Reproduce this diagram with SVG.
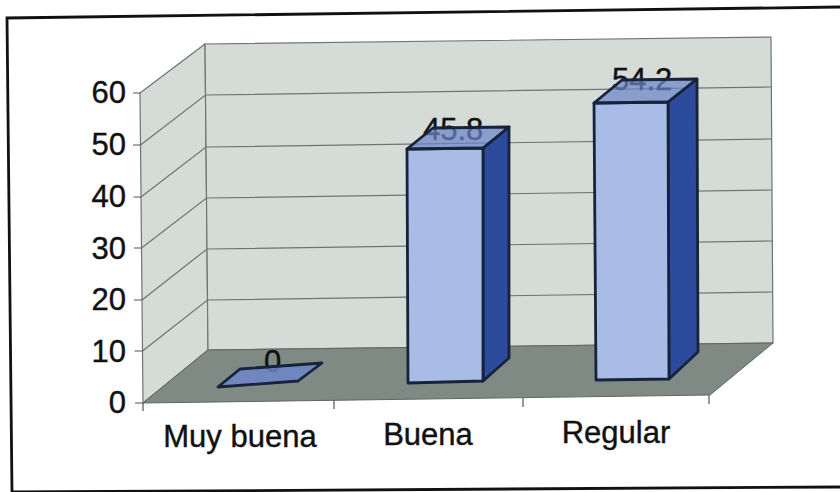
<svg xmlns="http://www.w3.org/2000/svg" width="840" height="492" viewBox="0 0 840 492">
<style>
.wall{fill:#d5dcd8;stroke:#6e7470;stroke-width:1.2}
.floor{fill:#7f8a85;stroke:#5f6763;stroke-width:1}
.grid{stroke:#6e7470;stroke-width:1.2;fill:none}
.tick{stroke:#555;stroke-width:1.2}
.front{fill:#a9bce6;stroke:#16233a;stroke-width:2.8;stroke-linejoin:round}
.side{fill:#2d4b9c;stroke:#16233a;stroke-width:2.8;stroke-linejoin:round}
.top{fill:#6c86c8;fill-opacity:0.72;stroke:#16233a;stroke-width:2.8;stroke-linejoin:round}
.lbl{font-family:"Liberation Sans",Arial,sans-serif;font-size:31px;fill:#111;stroke:#111;stroke-width:0.4}
.frame{stroke:#111;stroke-width:2.8;fill:none}
</style>
<rect width="840" height="492" fill="#ffffff"/>
<path class="frame" d="M12 492 L7 18 L840 7"/>
<path class="frame" d="M12 492 L840 487"/>
<g id="walls">
<polygon class="wall" points="140,93 205,44 208,350 143,403"/>
<polygon class="wall" points="205,44 771,37 773,343 208,350"/>
<polygon class="floor" points="143,403 208,350 773,343 710,395"/>
</g>
<g id="gridlines">
<path class="grid" d="M140.5 145 L205.5 95 L771.5 87 M141 197 L206 147 L772 139 M141.5 248 L206.5 198 L772 190 M142 300 L207 249 L772.5 241 M142.5 351 L207.5 300 L773 292"/>
</g>
<g id="axis">
<path class="tick" d="M133 93 H140 M133 145 H140.5 M133.5 197 H141 M134 248 H141.5 M134 300 H142 M134.5 351 H142.5 M135 403 H143"/>
<path class="tick" d="M143 403 V411 M334 400 V409 M523 398 V407 M709 395 V404"/>
<text class="lbl" x="126" y="103" text-anchor="end">60</text>
<text class="lbl" x="126" y="155" text-anchor="end">50</text>
<text class="lbl" x="126" y="207" text-anchor="end">40</text>
<text class="lbl" x="126" y="259" text-anchor="end">30</text>
<text class="lbl" x="126" y="310" text-anchor="end">20</text>
<text class="lbl" x="126" y="362" text-anchor="end">10</text>
<text class="lbl" x="126" y="413" text-anchor="end">0</text>
</g>
<g id="bar-muy-buena">
<text class="lbl" x="264" y="372">0</text>
<polygon class="top" style="fill-opacity:0.85" points="218,387 240,369 322,363 298,381"/>
</g>
<g id="bar-buena">
<text class="lbl" x="423" y="140">45.8</text>
<polygon class="side" points="483,148 509,127 509,358 483,381"/>
<polygon class="front" points="407,149 483,148 483,381 408,383"/>
<polygon class="top" points="407,149 483,148 509,127 433,128"/>
</g>
<g id="bar-regular">
<text class="lbl" x="612" y="90">54.2</text>
<polygon class="side" points="668,102 697,79 698,352 669,379"/>
<polygon class="front" points="594,103 668,102 669,379 596,380"/>
<polygon class="top" points="594,103 668,102 697,79 622,80"/>
</g>
<g id="categories">
<text class="lbl" x="240" y="447" text-anchor="middle">Muy buena</text>
<text class="lbl" x="428" y="445" text-anchor="middle">Buena</text>
<text class="lbl" x="616" y="443" text-anchor="middle">Regular</text>
</g>
</svg>
